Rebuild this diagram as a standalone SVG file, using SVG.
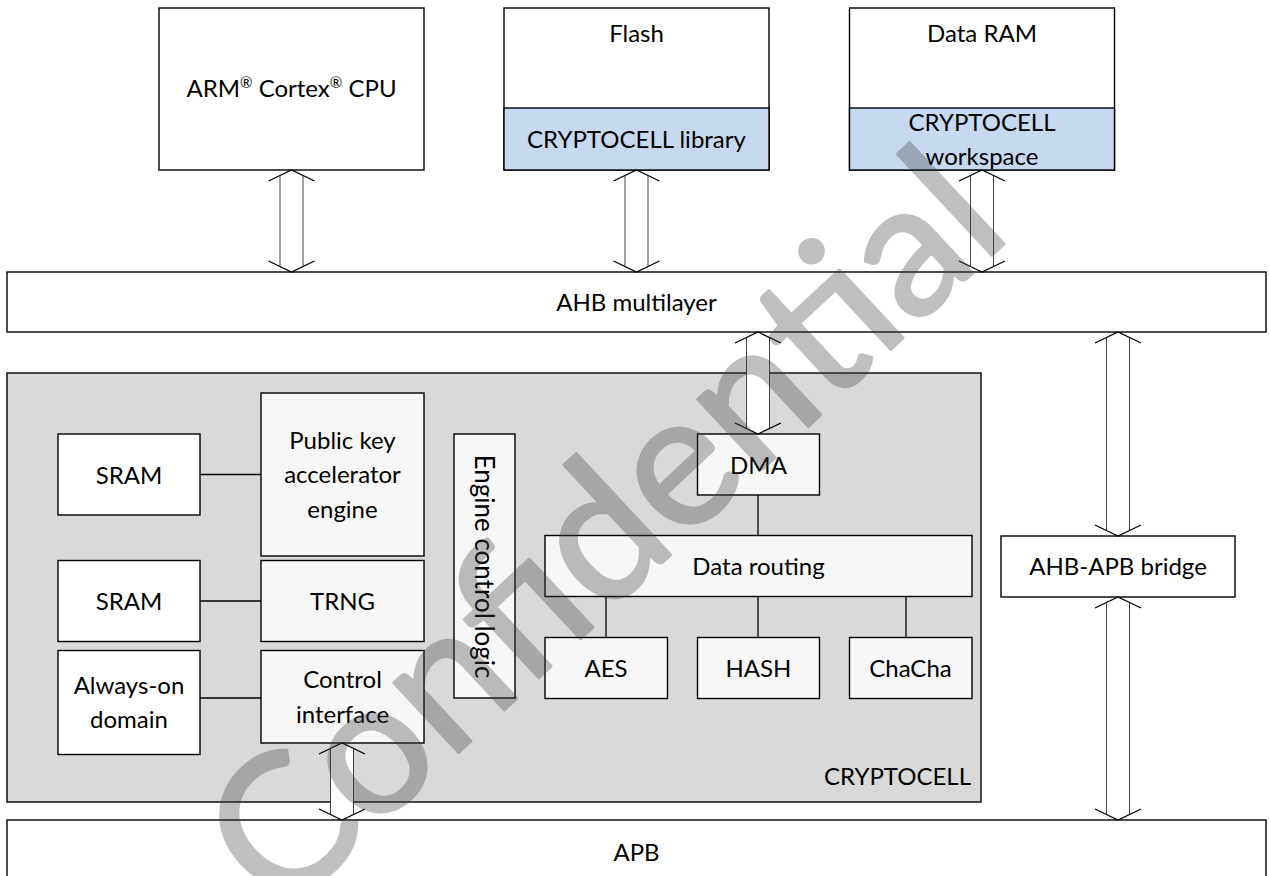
<svg xmlns="http://www.w3.org/2000/svg" width="1269" height="876" viewBox="0 0 1269 876">
<style>
.box{stroke:#000;stroke-width:1.4;fill:#fff}
.inner{fill:#f7f7f7}
.blue{fill:#c6d9f0;stroke:#000;stroke-width:1.4}
.cc{fill:#d9d9d9;stroke:#000;stroke-width:1.4}
.t{font-family:Lato,"Liberation Sans",sans-serif;font-size:24px;fill:#000;text-anchor:middle}
.conn{stroke:#000;stroke-width:1.3;fill:none}
.af{fill:#fff;stroke:none}
.shaft{stroke:#444;stroke-width:1;fill:none}
.head{stroke:#000;stroke-width:1.3;fill:none}
.wm{font-family:Lato,"Liberation Sans",sans-serif;font-size:188px;fill:#404040;stroke:#404040;stroke-width:3;stroke-linejoin:round;opacity:0.33;text-anchor:middle}
</style>

<g id="cpu">
<rect class="box" x="159" y="8" width="265" height="162"/>
<text class="t" x="291.5" y="97">ARM<tspan font-size="15" dy="-9">®</tspan><tspan dy="9"> Cortex</tspan><tspan font-size="15" dy="-9">®</tspan><tspan dy="9"> CPU</tspan></text>
</g>
<g id="flash">
<rect class="box" x="504" y="8" width="265" height="162"/>
<rect class="blue" x="504" y="108" width="265" height="62"/>
<text class="t" x="636.5" y="42">Flash</text>
<text class="t" x="636.5" y="148">CRYPTOCELL library</text>
</g>
<g id="dataram">
<rect class="box" x="849.5" y="8" width="265" height="162"/>
<rect class="blue" x="849.5" y="108" width="265" height="62"/>
<text class="t" x="982" y="42">Data RAM</text>
<text class="t" x="982" y="131">CRYPTOCELL</text>
<text class="t" x="982" y="165">workspace</text>
</g>
<g id="ahb">
<rect class="box" x="7" y="272" width="1259" height="60"/>
<text class="t" x="636.5" y="311">AHB multilayer</text>
</g>
<g id="cryptocell">
<rect class="cc" x="7" y="373" width="974" height="429"/>
<text class="t" x="971" y="785" style="text-anchor:end">CRYPTOCELL</text>
</g>
<g id="sram1">
<rect class="box" x="58" y="434" width="142" height="81"/>
<text class="t" x="129" y="483.5">SRAM</text>
</g>
<g id="pka">
<rect class="box inner" x="261" y="393" width="163" height="163"/>
<text class="t" x="342.5" y="448.5">Public key</text>
<text class="t" x="342.5" y="483">accelerator</text>
<text class="t" x="342.5" y="517.5">engine</text>
</g>
<g id="engine">
<rect class="box inner" x="454" y="434" width="61" height="264"/>
<text class="t" transform="translate(484,566.5) rotate(90)" x="0" y="9" style="font-size:26px">Engine control logic</text>
</g>
<g id="dma">
<rect class="box inner" x="697.5" y="434" width="122" height="61"/>
<text class="t" x="758.5" y="473.5">DMA</text>
</g>
<g id="routing">
<rect class="box inner" x="545" y="535.5" width="427" height="61"/>
<text class="t" x="758.5" y="575">Data routing</text>
</g>
<g id="aes">
<rect class="box inner" x="545" y="637.5" width="122.5" height="61"/>
<text class="t" x="606" y="677">AES</text>
</g>
<g id="hash">
<rect class="box inner" x="697.5" y="637.5" width="122" height="61"/>
<text class="t" x="758.5" y="677">HASH</text>
</g>
<g id="chacha">
<rect class="box inner" x="849.5" y="637.5" width="122.5" height="61"/>
<text class="t" x="910.5" y="677">ChaCha</text>
</g>
<g id="sram2">
<rect class="box" x="58" y="560.5" width="142" height="81"/>
<text class="t" x="129" y="610">SRAM</text>
</g>
<g id="trng">
<rect class="box inner" x="261" y="560.5" width="163" height="81"/>
<text class="t" x="342.5" y="610">TRNG</text>
</g>
<g id="alwayson">
<rect class="box" x="58" y="650.5" width="142" height="104"/>
<text class="t" x="129" y="694">Always-on</text>
<text class="t" x="129" y="728">domain</text>
</g>
<g id="ctrl">
<rect class="box inner" x="261" y="650.5" width="163" height="92.5"/>
<text class="t" x="342.5" y="688">Control</text>
<text class="t" x="342.5" y="722.5">interface</text>
</g>
<g id="bridge">
<rect class="box" x="1001" y="536" width="234" height="61"/>
<text class="t" x="1118" y="575">AHB-APB bridge</text>
</g>
<g id="apb">
<rect class="box" x="7" y="820" width="1259" height="70"/>
<text class="t" x="636.5" y="861">APB</text>
</g>

<g id="connectors">
<path class="conn" d="M200 474.5H261M200 601H261M200 698H261M758 495V535.5M606 596.5V637.5M758 596.5V637.5M906 596.5V637.5"/>
<path class="af" d="M280 175.5L291.5 170L303 175.5V266.5L291.5 272L280 266.5Z"/>
<path class="shaft" d="M280 175.5V266.5M303 175.5V266.5"/>
<path class="head" d="M268.5 181L291.5 170L314.5 181M268.5 261L291.5 272L314.5 261"/>
<path class="af" d="M625 175.5L636.5 170L648 175.5V266.5L636.5 272L625 266.5Z"/>
<path class="shaft" d="M625 175.5V266.5M648 175.5V266.5"/>
<path class="head" d="M613.5 181L636.5 170L659.5 181M613.5 261L636.5 272L659.5 261"/>
<path class="af" d="M970.5 175.5L982 170L993.5 175.5V266.5L982 272L970.5 266.5Z"/>
<path class="shaft" d="M970.5 175.5V266.5M993.5 175.5V266.5"/>
<path class="head" d="M959 181L982 170L1005 181M959 261L982 272L1005 261"/>
<path class="af" d="M746.5 337.5L758 332L769.5 337.5V428.5L758 434L746.5 428.5Z"/>
<path class="shaft" d="M746.5 337.5V428.5M769.5 337.5V428.5"/>
<path class="head" d="M735 343L758 332L781 343M735 423L758 434L781 423"/>
<path class="af" d="M1106.5 337.5L1118 332L1129.5 337.5V530.5L1118 536L1106.5 530.5Z"/>
<path class="shaft" d="M1106.5 337.5V530.5M1129.5 337.5V530.5"/>
<path class="head" d="M1095 343L1118 332L1141 343M1095 525L1118 536L1141 525"/>
<path class="af" d="M1106.5 602.5L1118 597L1129.5 602.5V814.5L1118 820L1106.5 814.5Z"/>
<path class="shaft" d="M1106.5 602.5V814.5M1129.5 602.5V814.5"/>
<path class="head" d="M1095 608L1118 597L1141 608M1095 809L1118 820L1141 809"/>
<path class="af" d="M330.5 748.5L342 743L353.5 748.5V814.5L342 820L330.5 814.5Z"/>
<path class="shaft" d="M330.5 748.5V814.5M353.5 748.5V814.5"/>
<path class="head" d="M319 754L342 743L365 754M319 809L342 820L365 809"/>
</g>

<g id="watermark">
<text class="wm" transform="translate(618,545) rotate(-43)" x="0" y="43">Confidential</text>
</g>
</svg>
